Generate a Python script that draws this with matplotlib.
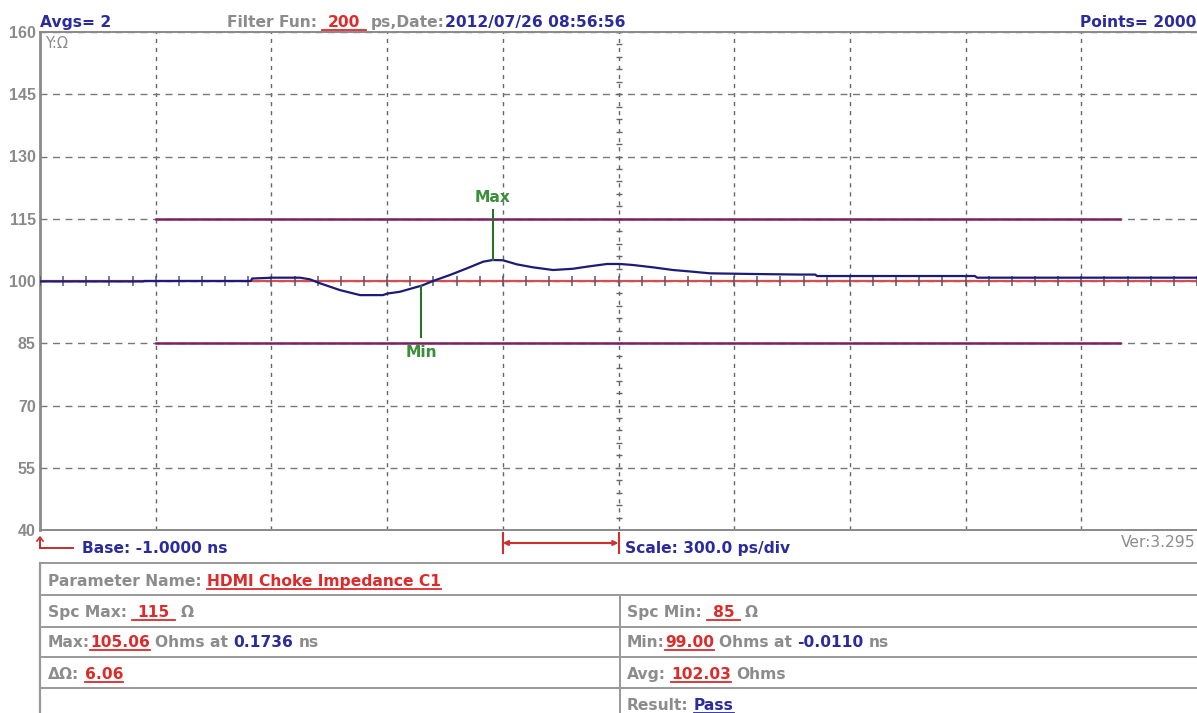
import numpy as np
import matplotlib
matplotlib.use("Agg")
import matplotlib.pyplot as plt
from matplotlib.lines import Line2D
from matplotlib.transforms import blended_transform_factory, IdentityTransform

W, H = 1197, 713

# TDR trace (time in ns, impedance in ohms)
time_ns = [-1.000, -0.733, -0.730, -0.453, -0.450, -0.396, -0.326, -0.300, -0.274,
           -0.222, -0.170, -0.111, -0.098, -0.067, -0.010, 0.019, 0.063, 0.107,
           0.149, 0.1736, 0.200, 0.237, 0.278, 0.330, 0.382, 0.418, 0.470, 0.504,
           0.538, 0.589, 0.641, 0.685, 0.737, 0.841, 0.971, 1.010, 1.015, 1.424,
           1.430, 2.000]
imp_ohm = [99.9, 99.9, 100.0, 100.0, 100.6, 100.8, 100.8, 100.4, 99.45,
           97.8, 96.6, 96.6, 97.0, 97.4, 98.9, 100.0, 101.45, 103.05,
           104.65, 105.06, 105.0, 104.0, 103.3, 102.65, 102.95, 103.45, 104.1, 104.1,
           103.85, 103.3, 102.65, 102.3, 101.85, 101.7, 101.55, 101.55, 101.2, 101.2,
           100.8, 100.8]

base_ns = -1.0
scale_ns = 0.3
n_div = 10
nominal = 100
spec_max = 115
spec_min = 85
spec_t = [-0.7, 1.8]
y_ticks = [40, 55, 70, 85, 100, 115, 130, 145, 160]
max_pt = (0.1736, 105.06)
min_pt = (-0.0110, 99.00)

BLUE = "#2b2b9c"
RED = "#dd2a2a"
GRAY = "#8c8c8c"
GREEN = "#3a8f3a"
FONT = "DejaVu Sans"
FS = 11.2

fig = plt.figure(figsize=(W / 100, H / 100), dpi=100)
ax = fig.add_axes([40 / W, 1 - 530 / H, 1 - 40 / W, (530 - 32) / H])
t_end = base_ns + n_div * scale_ns
ax.set_xlim(base_ns, t_end)
ax.set_ylim(40, 160)

# grid
grid_t = np.arange(1, n_div) * scale_ns + base_ns
ax.set_xticks(grid_t)
ax.set_yticks(y_ticks)
ax.tick_params(axis="x", length=0, labelbottom=False)
ax.tick_params(axis="y", length=0, pad=3, labelcolor="#8a8a8a")
for lab in ax.get_yticklabels():
    lab.set_fontfamily("Liberation Sans")
    lab.set_fontweight("bold")
    lab.set_fontsize(11.5)
ax.grid(axis="x", color="#666666", ls=(0, (3, 3.5)), lw=1.0)
ax.grid(axis="y", color="#777777", ls=(0, (5, 4)), lw=1.0)
for s in ["left", "top", "bottom"]:
    ax.spines[s].set_color("#8a8a8a")
ax.spines["left"].set_linewidth(2)
ax.spines["top"].set_linewidth(1.4)
ax.spines["bottom"].set_linewidth(1.4)
ax.spines["right"].set_visible(False)

# small ticks along the centre line and the nominal line
mid_t = base_ns + n_div / 2 * scale_ns
ax.plot([mid_t] * 41, np.arange(40, 161, 3), "_", ms=5, mew=1, color="#666666")
minor_t = np.arange(0, n_div * 5 + 1) * scale_ns / 5 + base_ns
ax.axhline(nominal, color="#d45050", lw=1.6, zorder=3)
ax.plot(minor_t, [nominal] * len(minor_t), "|", ms=6.5, mew=1.1, color="#555570", zorder=3)

# spec limits
ax.plot(spec_t, [spec_max] * 2, color="#7b2060", lw=1.8, zorder=3)
ax.plot(spec_t, [spec_min] * 2, color="#7b2060", lw=1.8, zorder=3)

# trace
ax.plot(time_ns, imp_ohm, color="#1c1c78", lw=1.6, zorder=4)

# max / min markers
ax.plot([max_pt[0]] * 2, [max_pt[1], 117.1], color="#2d6e2d", lw=1.5, zorder=5)
ax.plot([min_pt[0]] * 2, [98.9, 86.5], color="#2d6e2d", lw=1.5, zorder=5)
ax.text(max_pt[0], 119.0, "Max", color=GREEN, fontsize=FS, fontweight="bold",
        family=FONT, ha="center", va="baseline")
ax.text(min_pt[0], 81.7, "Min", color=GREEN, fontsize=FS, fontweight="bold",
        family=FONT, ha="center", va="baseline")

fig.text(45 / W, 1 - 48 / H, "Y:Ω", color=GRAY, fontsize=10.5, family=FONT, va="baseline")

# ---- rich text helper (measured in pixels) ----
renderer = fig.canvas.get_renderer()


def width(s, weight="bold", size=FS):
    t = fig.text(0, 0, "x" + s + "x", fontsize=size, fontweight=weight, family=FONT)
    t2 = fig.text(0, 0, "xx", fontsize=size, fontweight=weight, family=FONT)
    w = t.get_window_extent(renderer).width - t2.get_window_extent(renderer).width
    t.remove()
    t2.remove()
    return w


def rich(x, y, parts, ha="left", size=FS):
    ws = [width(p[0], size=size) for p in parts]
    if ha == "right":
        x -= sum(ws)
    for (s, c, ul), w in zip(parts, ws):
        lead = len(s) - len(s.lstrip())
        off = width(s[:lead], size=size) if lead else 0
        if s.strip():
            fig.text((x + off) / W, 1 - y / H, s.strip(), color=c, fontsize=size,
                     fontweight="bold", family=FONT, va="baseline", ha="left")
        if ul:
            fig.add_artist(Line2D([x / W, (x + w) / W], [1 - (y + 2.5) / H] * 2,
                                  color=c, lw=1.3))
        x += w


# header
rich(40, 27, [("Avgs= 2", BLUE, False)])
rich(227, 27, [("Filter Fun: ", GRAY, False), (" 200 ", RED, True),
               (" ps,Date:", GRAY, False), ("2012/07/26 08:56:56", BLUE, False)])
rich(1196, 27, [("Points= 2000", BLUE, False)], ha="right")

# footer under the axes
rich(82, 553, [("Base: -1.0000 ns", BLUE, False)])
rich(625, 553, [("Scale: 300.0 ps/div", BLUE, False)])
fig.text(1196 / W, 1 - 547 / H, "Ver:3.295", color=GRAY, fontsize=FS,
         family=FONT, ha="right", va="baseline")

pix = IdentityTransform()
fig.add_artist(Line2D([40, 73], [H - 548, H - 548], color="#c03030", lw=1.4, transform=pix))
fig.add_artist(Line2D([40, 40], [H - 548, H - 540], color="#c03030", lw=1.4, transform=pix))
fig.add_artist(Line2D([37, 40, 43], [H - 541, H - 537, H - 541], color="#c03030", lw=1.2,
                      transform=pix))

bt = blended_transform_factory(ax.transData, pix)
sb0, sb1 = base_ns + 4 * scale_ns, base_ns + 5 * scale_ns
ax.annotate("", xy=(sb1, H - 543), xytext=(sb0, H - 543), xycoords=bt, textcoords=bt,
            annotation_clip=False,
            arrowprops=dict(arrowstyle="<|-|>", color="#d03030", lw=1.5,
                            mutation_scale=7, shrinkA=0, shrinkB=0))
for tv in (sb0, sb1):
    fig.add_artist(Line2D([tv, tv], [H - 533, H - 553], color="#d03030", lw=1.5,
                          transform=bt))

# results table
rows = [563, 595, 627, 657, 688]
for ry in rows:
    fig.add_artist(Line2D([40, W], [H - ry, H - ry], color="#999999", lw=1.4, transform=pix))
fig.add_artist(Line2D([40, 40], [H - 563, 0], color="#999999", lw=1.6, transform=pix))
fig.add_artist(Line2D([620, 620], [H - 595, 0], color="#999999", lw=1.4, transform=pix))

rich(48, 586, [("Parameter Name: ", GRAY, False), ("HDMI Choke Impedance C1", RED, True)])
rich(48, 617, [("Spc Max: ", GRAY, False), (" 115 ", RED, True), (" Ω", GRAY, False)])
rich(627, 617, [("Spc Min: ", GRAY, False), (" 85 ", RED, True), (" Ω", GRAY, False)])
rich(48, 647, [("Max:", GRAY, False), ("105.06", RED, True), (" Ohms at ", GRAY, False),
               ("0.1736", BLUE, False), (" ns", GRAY, False)])
rich(627, 647, [("Min:", GRAY, False), ("99.00", RED, True), (" Ohms at ", GRAY, False),
                ("-0.0110", BLUE, False), (" ns", GRAY, False)])
rich(48, 679, [("ΔΩ: ", GRAY, False), ("6.06", RED, True)])
rich(627, 679, [("Avg: ", GRAY, False), ("102.03", RED, True), (" Ohms", GRAY, False)])
rich(627, 710, [("Result: ", GRAY, False), ("Pass", BLUE, True)])

fig.savefig("out.png", dpi=100)
